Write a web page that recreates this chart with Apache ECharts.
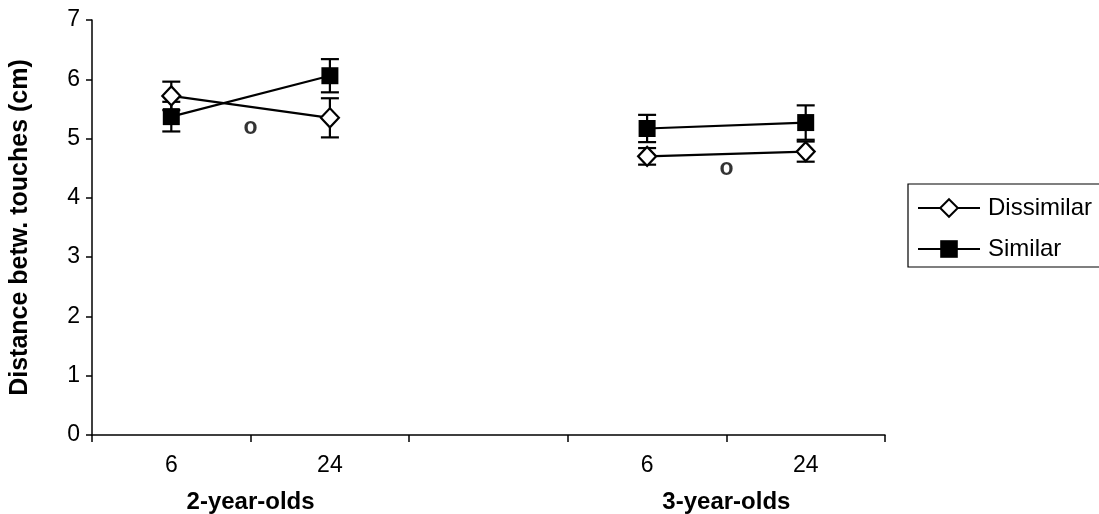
<!DOCTYPE html>
<html>
<head>
<meta charset="utf-8">
<script src="https://cdn.jsdelivr.net/npm/echarts@6/dist/echarts.min.js"></script>
<style>html,body{margin:0;padding:0;background:#fff}#c{width:1099px;height:514px}</style>
</head>
<body>
<div id="c"></div>
<script>
const categories = ['6', '24', '', '6', '24'];
const groups = ['2-year-olds', '3-year-olds'];
const groupPositions = [1, 4];
const yTicks = [0, 1, 2, 3, 4, 5, 6, 7];
const dissimilar = [5.72, 5.35, null, 4.70, 4.78];
const dissimilarErr = [0.24, 0.33, null, 0.14, 0.17];
const similar = [5.37, 6.06, null, 5.17, 5.27];
const similarErr = [0.25, 0.28, null, 0.23, 0.29];
const markX = [1, 4];
const markY = [5.18, 4.49];
const markText = 'o';

const FONT = '"Liberation Sans", Arial, Helvetica, sans-serif';

function errData(vals, errs) {
  const out = [];
  vals.forEach((v, i) => { if (v != null) out.push([i, v - errs[i], v + errs[i]]); });
  return out;
}
function errSeries(name, vals, errs) {
  return {
    type: 'custom', name: name + ' err', xAxisIndex: 0, yAxisIndex: 0, z: 1,
    silent: true,
    data: errData(vals, errs),
    renderItem: function (params, api) {
      const lo = api.coord([api.value(0), api.value(1)]);
      const hi = api.coord([api.value(0), api.value(2)]);
      const hw = 9;
      const st = { stroke: '#000', lineWidth: 2.2 };
      return {
        type: 'group',
        children: [
          { type: 'line', shape: { x1: lo[0], y1: lo[1], x2: hi[0], y2: hi[1] }, style: st },
          { type: 'line', shape: { x1: lo[0] - hw, y1: lo[1], x2: lo[0] + hw, y2: lo[1] }, style: st },
          { type: 'line', shape: { x1: hi[0] - hw, y1: hi[1], x2: hi[0] + hw, y2: hi[1] }, style: st }
        ]
      };
    }
  };
}

const chart = echarts.init(document.getElementById('c'), null, { renderer: 'canvas' });
chart.setOption({
  backgroundColor: '#fff',
  animation: false,
  textStyle: { fontFamily: FONT, color: '#000' },
  grid: { left: 92, right: 214, top: 20, bottom: 78, containLabel: false },
  legend: {
    orient: 'vertical', left: 908, top: 184,
    data: ['Dissimilar', 'Similar'],
    borderColor: '#000', borderWidth: 1.2,
    padding: [12, 20, 6, 9],
    itemGap: 17, itemWidth: 62, itemHeight: 22,
    textStyle: { fontSize: 24, fontFamily: FONT, color: '#000', padding: [0, 0, 0, 3] }
  },
  xAxis: [{
    type: 'category', data: categories, boundaryGap: true,
    axisLine: { lineStyle: { color: '#000', width: 1.5 } },
    axisTick: { show: true, interval: 0, length: 7, lineStyle: { color: '#000', width: 1.5 } },
    axisLabel: { interval: 0, fontSize: 23, color: '#000', margin: 19, fontFamily: FONT }
  }, {
    type: 'value', min: 0, max: 5, interval: 1, position: 'bottom',
    axisLine: { show: false }, axisTick: { show: false }, splitLine: { show: false },
    axisLabel: {
      fontSize: 24, fontWeight: 'bold', color: '#000', margin: 55, fontFamily: FONT,
      formatter: function (v) { const k = groupPositions.indexOf(v); return k >= 0 ? groups[k] : ''; }
    }
  }],
  yAxis: [{
    type: 'value', min: yTicks[0], max: yTicks[yTicks.length - 1], interval: 1,
    axisLine: { show: true, lineStyle: { color: '#000', width: 1.5 } },
    axisTick: { show: true, length: 6, lineStyle: { color: '#000', width: 1.5 } },
    splitLine: { show: false },
    axisLabel: { fontSize: 23, color: '#000', margin: 12, fontFamily: FONT },
    name: 'Distance betw. touches (cm)', nameLocation: 'middle', nameGap: 59,
    nameTextStyle: { fontSize: 25, fontWeight: 'bold', color: '#000', fontFamily: FONT }
  }],
  series: [
    errSeries('Dissimilar', dissimilar, dissimilarErr),
    errSeries('Similar', similar, similarErr),
    {
      name: 'Dissimilar', type: 'line', xAxisIndex: 0, yAxisIndex: 0, z: 3,
      data: dissimilar, connectNulls: false,
      symbol: 'diamond', symbolSize: [18, 19],
      lineStyle: { color: '#000', width: 2.2 },
      itemStyle: { color: '#fff', borderColor: '#000', borderWidth: 2.2 }
    },
    {
      name: 'Similar', type: 'line', xAxisIndex: 0, yAxisIndex: 0, z: 4,
      data: similar, connectNulls: false,
      symbol: 'rect', symbolSize: 17,
      lineStyle: { color: '#000', width: 2.2 },
      itemStyle: { color: '#000', borderColor: '#000', borderWidth: 0 }
    },
    {
      name: 'marks', type: 'scatter', xAxisIndex: 1, yAxisIndex: 0, z: 5,
      symbolSize: 1, itemStyle: { color: 'rgba(0,0,0,0)' },
      data: markX.map((x, i) => [x, markY[i]]),
      label: {
        show: true, position: 'inside', formatter: markText,
        fontSize: 23, fontWeight: 'bold', color: '#000', fontFamily: FONT
      }
    }
  ]
});
</script>
</body>
</html>
